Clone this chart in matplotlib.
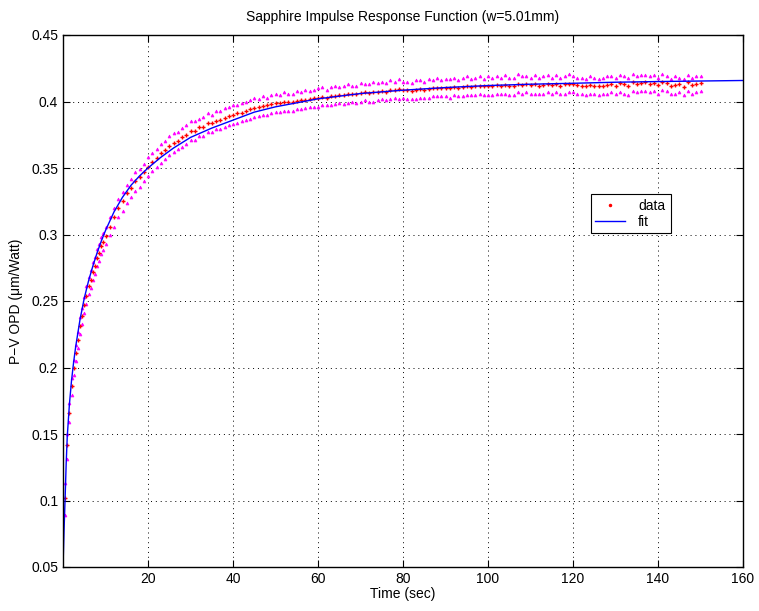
import numpy as np
import matplotlib
matplotlib.use("Agg")
import matplotlib.pyplot as plt
from matplotlib.lines import Line2D

plt.rcParams['font.family'] = ['Liberation Sans', 'DejaVu Sans']

# sample times (sec): 0.5 s steps up to 10 s, then 1 s steps
t_data = [0.5 * k for k in range(1, 21)] + list(range(11, 151))

# measured P-V OPD, units of 1e-3 um/Watt
data_milli = [
    102, 142, 166, 186, 200, 211, 221, 231, 239, 247,
    254, 261, 266, 272, 276, 282, 286, 291, 294, 299,
    306, 313, 320, 325, 331, 335, 340, 343, 347, 351,
    354.5, 357.5, 361, 363.5, 366.5, 369, 370.5, 373, 375, 377.5,
    378, 380.5, 381, 383.5, 384, 385.5, 386, 387.5, 389, 389.5,
    391, 391.5, 393, 394, 395, 395.5, 396.5, 397, 398, 399,
    398.5, 399.5, 400, 399.5, 400.5, 401, 401.5, 402, 402.5, 403,
    403.5, 403, 404, 404.5, 405, 405, 405.5, 406, 405.5, 406.5,
    407, 406.5, 407, 407.5, 408, 407.5, 408.5, 409, 409.5, 409,
    408.5, 408, 409, 409.5, 409, 409.5, 410, 410.5, 410, 410.5,
    410, 411, 410.5, 411, 411.5, 411, 411.5, 412, 411.5, 412,
    411.5, 412.5, 412, 412.5, 411.5, 412, 413, 412.5, 413, 412.5,
    413, 412, 412.5, 413, 412.5, 413.5, 412, 413, 413.5, 413,
    412.5, 412, 411.5, 412.5, 412, 411.5, 412, 412.5, 413, 412,
    414, 413, 412, 414.5, 413, 414, 415, 413.5, 414, 412.5,
    415, 414, 411.5, 412.5, 413, 411, 414.5, 412.5, 413.5, 414,
]

# upper and lower error bounds, same units
upper_milli = [
    113, 150, 173, 192, 206, 217, 227, 238, 245, 253,
    261, 268, 273, 279, 283, 289, 293, 298, 301, 306,
    313, 320, 327, 332, 337, 342, 347, 349, 353, 358,
    361, 364, 368, 370, 374, 376, 377, 380, 382, 385,
    385, 387, 388, 391, 390, 393, 393, 395, 396, 397,
    397, 399, 400, 401, 403, 402, 404, 403, 405, 406,
    405, 407, 406, 406, 408, 407, 409, 408, 409, 410,
    411, 409, 411, 412, 411, 412, 413, 412, 412, 414,
    413, 413, 415, 414, 415, 414, 416, 415, 417, 415,
    415, 414, 416, 416, 415, 417, 416, 418, 416, 417,
    417, 418, 416, 418, 419, 417, 418, 419, 417, 419,
    418, 419, 418, 420, 418, 418, 421, 419, 419, 418,
    420, 418, 419, 420, 418, 420, 418, 419, 421, 419,
    418, 418, 417, 419, 418, 417, 418, 419, 419, 418,
    420, 419, 418, 421, 419, 420, 420, 419, 420, 418,
    421, 419, 417, 419, 418, 417, 420, 418, 419, 419,
]

lower_milli = [
    89, 131, 159, 179, 194, 205, 215, 225, 233, 241,
    248, 255, 260, 266, 270, 276, 280, 285, 288, 293,
    300, 306, 313, 318, 324, 328, 333, 336, 340, 344,
    348, 351, 354, 357, 360, 362, 364, 366, 368, 371,
    371, 374, 374, 377, 377, 379, 379, 381, 382, 383,
    384, 385, 386, 387, 388, 389, 390, 390, 391, 392,
    392, 393, 393, 393, 394, 394, 395, 396, 396, 396,
    397, 397, 397, 398, 399, 398, 399, 400, 399, 400,
    401, 400, 400, 401, 402, 401, 402, 403, 402, 403,
    402, 402, 402, 403, 403, 403, 404, 404, 404, 404,
    403, 405, 404, 404, 405, 405, 405, 406, 405, 405,
    405, 406, 406, 406, 405, 405, 407, 406, 407, 406,
    406, 406, 406, 407, 406, 407, 406, 406, 407, 407,
    406, 406, 405, 406, 406, 405, 406, 406, 407, 406,
    407, 406, 405, 408, 407, 408, 408, 407, 408, 406,
    409, 408, 406, 406, 407, 405, 408, 406, 407, 408,
]

# fitted curve
t_fit = [0, 0.25, 0.5, 0.75, 1, 1.5, 2, 2.5, 3, 4, 5, 6, 7, 8, 9, 10,
         12, 14, 16, 18, 20, 23, 26, 30, 35, 40, 45, 50, 55, 60,
         70, 80, 90, 100, 110, 120, 130, 140, 150, 160]
fit_vals = [0.050, 0.078, 0.102, 0.128, 0.148, 0.172, 0.190, 0.204, 0.216,
            0.236, 0.252, 0.265, 0.276, 0.286, 0.295, 0.303, 0.317, 0.328,
            0.337, 0.344, 0.350, 0.358, 0.365, 0.373, 0.380, 0.386, 0.392,
            0.396, 0.399, 0.402, 0.406, 0.4085, 0.4105, 0.412, 0.413,
            0.4137, 0.4145, 0.415, 0.4154, 0.4158]

xticks = [20, 40, 60, 80, 100, 120, 140, 160]
yticks = [0.05, 0.1, 0.15, 0.2, 0.25, 0.3, 0.35, 0.4, 0.45]

data = np.array(data_milli) / 1000.0
upper = np.array(upper_milli) / 1000.0
lower = np.array(lower_milli) / 1000.0

fig = plt.figure(figsize=(7.59, 6.11), dpi=100)
ax = fig.add_axes([63 / 759, 44 / 611, 680 / 759, 532 / 611])

ax.plot(t_data, upper, linestyle='none', marker='^', ms=2.1, color='#ff00ff',
        markeredgewidth=0.5)
ax.plot(t_data, lower, linestyle='none', marker='^', ms=2.1, color='#ff00ff',
        markeredgewidth=0.5)
ax.plot(t_data, data, linestyle='none', marker='+', ms=3.5, color='#ff0000',
        markeredgewidth=1.0)
ax.plot(t_fit, fit_vals, color='#0000ff', lw=1.0)

ax.set_xlim(0, 160)
ax.set_ylim(0.05, 0.45)
ax.set_xticks(xticks)
ax.set_yticks(yticks)
ax.set_xticklabels([str(v) for v in xticks])
ax.set_yticklabels(['0.05', '0.1', '0.15', '0.2', '0.25', '0.3', '0.35', '0.4', '0.45'])
ax.tick_params(direction='in', top=True, right=True, labelsize=10, length=5, width=0.8)
ax.grid(True, color='black', linestyle=(0, (1, 4)), linewidth=0.7)
for s in ax.spines.values():
    s.set_linewidth(1.0)

ax.set_title('Sapphire Impulse Response Function (w=5.01mm)', fontsize=10, pad=10)
ax.set_xlabel('Time (sec)', fontsize=10, labelpad=1)
ax.set_ylabel('P\u2212V OPD (\u03bcm/Watt)', fontsize=10, labelpad=6)

handles = [Line2D([], [], linestyle='none', marker='.', ms=3, color='#ff0000'),
           Line2D([], [], color='#0000ff', lw=1.0)]
leg = ax.legend(handles, ['data', 'fit'], loc='lower left',
                bbox_to_anchor=(0.776, 0.628, 0.118, 0.075), mode='expand',
                fontsize=10, fancybox=False, framealpha=1, edgecolor='black',
                borderpad=0.3, handlelength=2.2, labelspacing=0.15,
                handletextpad=0.9, borderaxespad=0)
leg.get_frame().set_linewidth(0.8)

fig.savefig('out.png', dpi=100)
